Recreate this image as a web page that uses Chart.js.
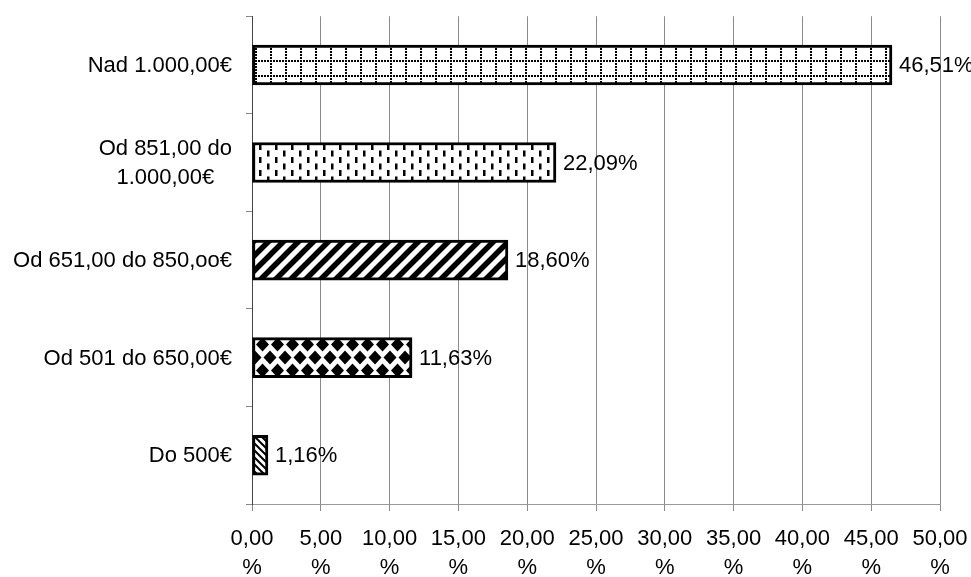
<!DOCTYPE html>
<html>
<head>
<meta charset="utf-8">
<script src="https://cdn.jsdelivr.net/npm/chart.js@4"></script>
<style>
  html, body { margin: 0; padding: 0; background: #fff; }
  #chart { display: block; }
</style>
</head>
<body>
<canvas id="chart" width="971" height="577"></canvas>
<script>
// podaci
const categories = ['Nad 1.000,00€', ['Od 851,00 do', '1.000,00€'], 'Od 651,00 do 850,oo€', 'Od 501 do 650,00€', 'Do 500€'];
const shares = [46.51, 22.09, 18.60, 11.63, 1.16];
const xTicks = [0, 5, 10, 15, 20, 25, 30, 35, 40, 45, 50];

const FONT = '"Liberation Sans", Arial, sans-serif';

/*===== uzorci za stupce =====*/
function makePattern(w, h, draw) {
    const c = document.createElement('canvas');
    c.width = w;
    c.height = h;
    const g = c.getContext('2d');
    g.fillStyle = '#fff';
    g.fillRect(0, 0, w, h);
    g.fillStyle = '#000';
    g.strokeStyle = '#000';
    draw(g, w, h);
    return g.createPattern(c, 'repeat');
}

// tockasta mreza
const dotGrid = makePattern(15, 15, function(g) {
    for (let i = 0; i < 5; i++) {
        g.fillRect(i * 3, 0, 2, 2);
        g.fillRect(0, i * 3, 2, 2);
    }
});

// kratke okomite crtice
const dashes = makePattern(16, 13, function(g) {
    g.fillRect(3, 1, 2.5, 6);
    g.fillRect(11, 7.5, 2.5, 6);
    g.fillRect(11, -5.5, 2.5, 6);
});

// kose pruge /
const slashes = makePattern(15, 15, function(g, w, h) {
    g.lineWidth = 5.5;
    g.lineCap = 'square';
    g.beginPath();
    for (let k = -1; k <= 1; k++) {
        g.moveTo(k * w - 3, h + 3);
        g.lineTo(k * w + w + 3, -3);
    }
    g.stroke();
});

// rombovi
const diamonds = makePattern(15, 26, function(g) {
    const d = function(cx, cy) {
        g.beginPath();
        g.moveTo(cx, cy - 7);
        g.lineTo(cx + 6.5, cy);
        g.lineTo(cx, cy + 7);
        g.lineTo(cx - 6.5, cy);
        g.closePath();
        g.fill();
    };
    d(7.5, 6.5);
    d(0, 19.5);
    d(15, 19.5);
    d(7.5, 32.5);
    d(0, -6.5);
    d(15, -6.5);
});

// kose pruge \
const backslashes = makePattern(7, 7, function(g, w, h) {
    g.lineWidth = 2;
    g.lineCap = 'square';
    g.beginPath();
    for (let k = -1; k <= 1; k++) {
        g.moveTo(k * w - 2, -2);
        g.lineTo(k * w + w + 2, h + 2);
    }
    g.stroke();
});

const fills = [dotGrid, dashes, slashes, diamonds, backslashes];

function fmt(v) {
    return v.toFixed(2).replace('.', ',');
}

// oznake vrijednosti desno od stupca
const valueLabels = {
    id: 'valueLabels',
    afterDatasetsDraw(chart) {
        const ctx = chart.ctx;
        const meta = chart.getDatasetMeta(0);
        ctx.save();
        ctx.font = '22px ' + FONT;
        ctx.fillStyle = '#000';
        ctx.textAlign = 'left';
        ctx.textBaseline = 'middle';
        meta.data.forEach(function(bar, i) {
            ctx.fillText(fmt(shares[i]) + '%', bar.x + 7, bar.y + 1);
        });
        ctx.restore();
    }
};

// oznake kategorija (vise redaka centrirano)
const catLabels = {
    id: 'catLabels',
    afterDraw(chart) {
        const ctx = chart.ctx;
        const ys = chart.scales.y;
        ctx.save();
        ctx.font = '22px ' + FONT;
        ctx.fillStyle = '#000';
        ctx.textAlign = 'center';
        ctx.textBaseline = 'middle';
        categories.forEach(function(lab, i) {
            const lines = Array.isArray(lab) ? lab : [lab];
            const wmax = Math.max.apply(null, lines.map(function(t) { return ctx.measureText(t).width; }));
            const cx = ys.right - 20 - wmax / 2;
            const y = ys.getPixelForValue(i);
            lines.forEach(function(t, j) {
                ctx.fillText(t, cx, y + 1 + (j - (lines.length - 1) / 2) * 29);
            });
        });
        ctx.restore();
    }
};

new Chart(document.getElementById('chart'), {
    type: 'bar',
    data: {
        labels: categories,
        datasets: [{
            data: shares,
            backgroundColor: fills,
            borderColor: '#000',
            borderWidth: 3,
            borderSkipped: false,
            barThickness: 40
        }]
    },
    options: {
        indexAxis: 'y',
        responsive: false,
        animation: false,
        devicePixelRatio: 1,
        layout: { padding: { top: 16, right: 31, left: 0, bottom: 0 } },
        plugins: {
            legend: { display: false },
            tooltip: { enabled: false }
        },
        scales: {
            x: {
                min: 0,
                max: 50,
                afterBuildTicks: function(s) {
                    s.ticks = xTicks.map(function(v) { return { value: v }; });
                },
                afterFit: function(s) {
                    s.height = 73;
                    s.paddingLeft = 0;
                    s.paddingRight = 0;
                },
                grid: { color: '#8a8a8a', lineWidth: 1, tickLength: 7 },
                border: { color: '#999' },
                ticks: {
                    color: '#000',
                    padding: 13,
                    maxRotation: 0,
                    font: { family: FONT, size: 22, lineHeight: 1.32 },
                    callback: function(v) { return [fmt(v), '%']; }
                }
            },
            y: {
                afterFit: function(s) { s.width = 252; },
                grid: { drawOnChartArea: false, offset: true, tickLength: 6, color: '#888' },
                border: { color: '#444' },
                ticks: {
                    color: 'rgba(0,0,0,0)',
                    font: { family: FONT, size: 22 }
                }
            }
        }
    },
    plugins: [valueLabels, catLabels]
});
</script>
</body>
</html>
